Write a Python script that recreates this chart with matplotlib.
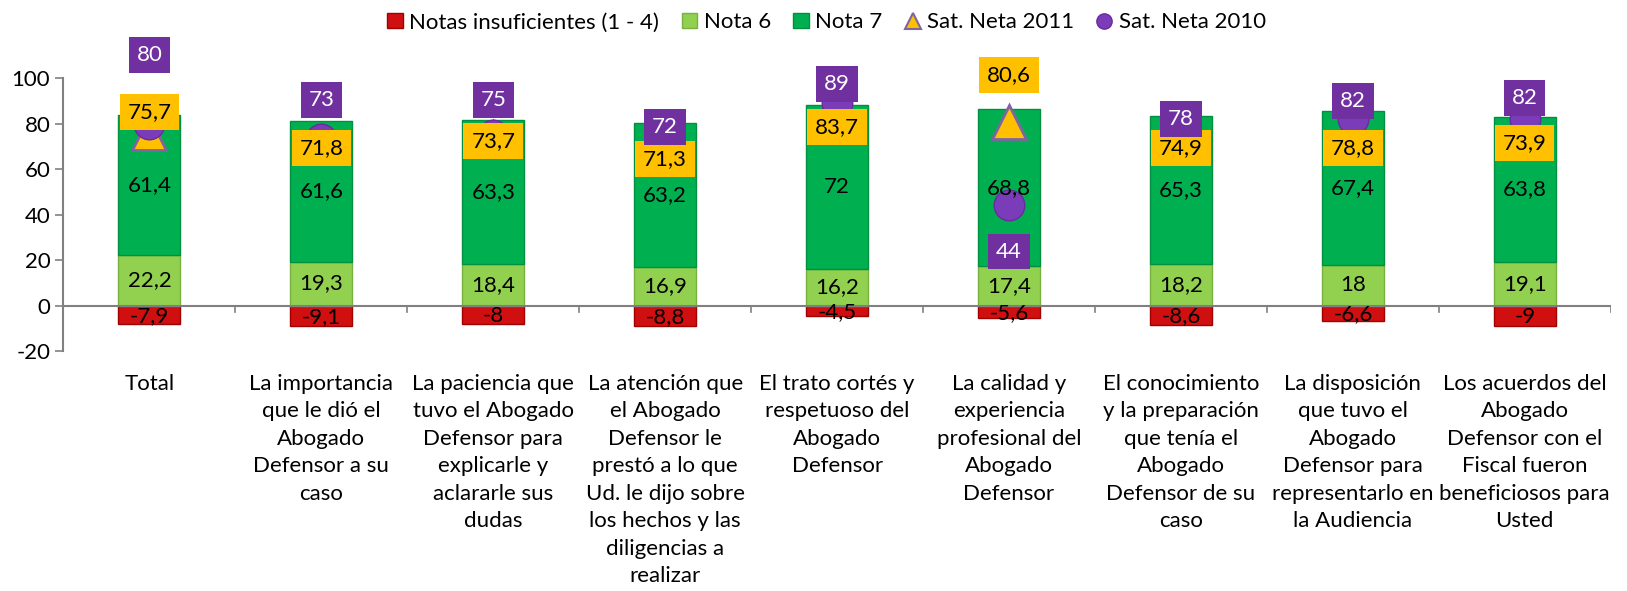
import matplotlib.pyplot as plt
import numpy as np
from matplotlib.lines import Line2D
from matplotlib.patches import Patch

plt.rcParams['font.family'] = ['Lato', 'DejaVu Sans']
plt.rcParams['axes.unicode_minus'] = False

categories = [
    "Total",
    "La importancia\nque le dió el\nAbogado\nDefensor a su\ncaso",
    "La paciencia que\ntuvo el Abogado\nDefensor para\nexplicarle y\naclararle sus\ndudas",
    "La atención que\nel Abogado\nDefensor le\nprestó a lo que\nUd. le dijo sobre\nlos hechos y las\ndiligencias a\nrealizar",
    "El trato cortés y\nrespetuoso del\nAbogado\nDefensor",
    "La calidad y\nexperiencia\nprofesional del\nAbogado\nDefensor",
    "El conocimiento\ny la preparación\nque tenía el\nAbogado\nDefensor de su\ncaso",
    "La disposición\nque tuvo el\nAbogado\nDefensor para\nrepresentarlo en\nla Audiencia",
    "Los acuerdos del\nAbogado\nDefensor con el\nFiscal fueron\nbeneficiosos para\nUsted",
]
insuf = [-7.9, -9.1, -8, -8.8, -4.5, -5.6, -8.6, -6.6, -9]
nota6 = [22.2, 19.3, 18.4, 16.9, 16.2, 17.4, 18.2, 18, 19.1]
nota7 = [61.4, 61.6, 63.3, 63.2, 72, 68.8, 65.3, 67.4, 63.8]
sat2011 = [75.7, 71.8, 73.7, 71.3, 83.7, 80.6, 74.9, 78.8, 73.9]
sat2010 = [80, 73, 75, 72, 89, 44, 78, 82, 82]

# where the data label boxes sit relative to their marker (data units)
dy2011 = [9.4, -2.5, -1.3, -6.8, -5.2, 20.7, -5.6, -9.5, -2.4]
dy2010 = [30, 17.4, 15.4, 6.5, 8.4, -20.3, 4, 7.9, 9.2]

c_red = '#D01010'
c_n6 = '#92D050'
c_n7 = '#00B050'
c_orange = '#FFC000'
c_purple = '#7030A0'
fs = 16


def fmt(v):
    s = ('%.1f' % v).rstrip('0').rstrip('.')
    return s.replace('.', ',')


fig = plt.figure(figsize=(16.27, 5.91), dpi=100)
ax = fig.add_axes([0.039, 0.406, 0.951, 0.462])

x = np.arange(len(categories))
w = 0.36
ax.bar(x, insuf, w, color=c_red, edgecolor='#A00000', linewidth=1, zorder=2)
ax.bar(x, nota6, w, color=c_n6, edgecolor='#7AB040', linewidth=1, zorder=2)
ax.bar(x, nota7, w, bottom=nota6, color=c_n7, edgecolor='#009040', linewidth=1, zorder=2)

for i in range(len(x)):
    ax.text(x[i], insuf[i] / 2 - 0.5, fmt(insuf[i]), ha='center', va='center', fontsize=fs, zorder=5)
    ax.text(x[i], nota6[i] / 2, fmt(nota6[i]), ha='center', va='center', fontsize=fs, zorder=5)
    ax.text(x[i], nota6[i] + nota7[i] / 2, fmt(nota7[i]), ha='center', va='center', fontsize=fs, zorder=5)

ax.plot(x, sat2011, linestyle='none', marker='^', markersize=24, markerfacecolor=c_orange,
        markeredgecolor='#8064A2', markeredgewidth=2, zorder=3, clip_on=False)
ax.plot(x, sat2010, linestyle='none', marker='o', markersize=22, markerfacecolor='#7A3CB8',
        markeredgecolor='#6A2A9F', markeredgewidth=1, zorder=3, clip_on=False)

for i in range(len(x)):
    ax.text(x[i], sat2011[i] + dy2011[i], fmt(sat2011[i]), ha='center', va='center', fontsize=fs,
            color='black', zorder=6, clip_on=False,
            bbox=dict(boxstyle='square,pad=0.35', facecolor=c_orange, edgecolor='none'))
    ax.text(x[i], sat2010[i] + dy2010[i], fmt(sat2010[i]), ha='center', va='center', fontsize=fs,
            color='white', zorder=6, clip_on=False,
            bbox=dict(boxstyle='square,pad=0.35', facecolor=c_purple, edgecolor='none'))

ax.set_xlim(-0.5, len(x) - 0.5)
ax.set_ylim(-20, 100)
ax.set_yticks(range(-20, 101, 20))
ax.tick_params(axis='y', labelsize=fs, length=6, color='#808080', width=1.2)
for s in ['top', 'right', 'bottom']:
    ax.spines[s].set_visible(False)
ax.spines['left'].set_color('#808080')
ax.spines['left'].set_linewidth(1.5)

ax.axhline(0, color='#808080', linewidth=1.5, zorder=4)
ax.set_xticks([])
for b in np.arange(0.5, len(x) - 0.4, 1.0):
    ax.plot([b, b], [0, -3], color='#808080', linewidth=1.2, zorder=4)

for i in range(len(x)):
    ax.text(x[i], -30, categories[i], ha='center', va='top', fontsize=fs, linespacing=1.47,
            clip_on=False)

handles = [
    Patch(facecolor=c_red, edgecolor='#A00000'),
    Patch(facecolor=c_n6, edgecolor='#7AB040'),
    Patch(facecolor=c_n7, edgecolor='#009040'),
    Line2D([], [], linestyle='none', marker='^', markersize=12, markerfacecolor=c_orange,
           markeredgecolor='#8064A2', markeredgewidth=1.5),
    Line2D([], [], linestyle='none', marker='o', markersize=11, markerfacecolor='#7A3CB8',
           markeredgecolor='#6A2A9F'),
]
labels = ['Notas insuficientes (1 - 4)', 'Nota 6', 'Nota 7', 'Sat. Neta 2011', 'Sat. Neta 2010']
fig.legend(handles, labels, loc='center', bbox_to_anchor=(0.508, 0.962), ncol=5, frameon=False,
           fontsize=fs, handlelength=0.7, handleheight=0.7, handletextpad=0.3, columnspacing=1.0)

fig.savefig('out.png', dpi=100)
